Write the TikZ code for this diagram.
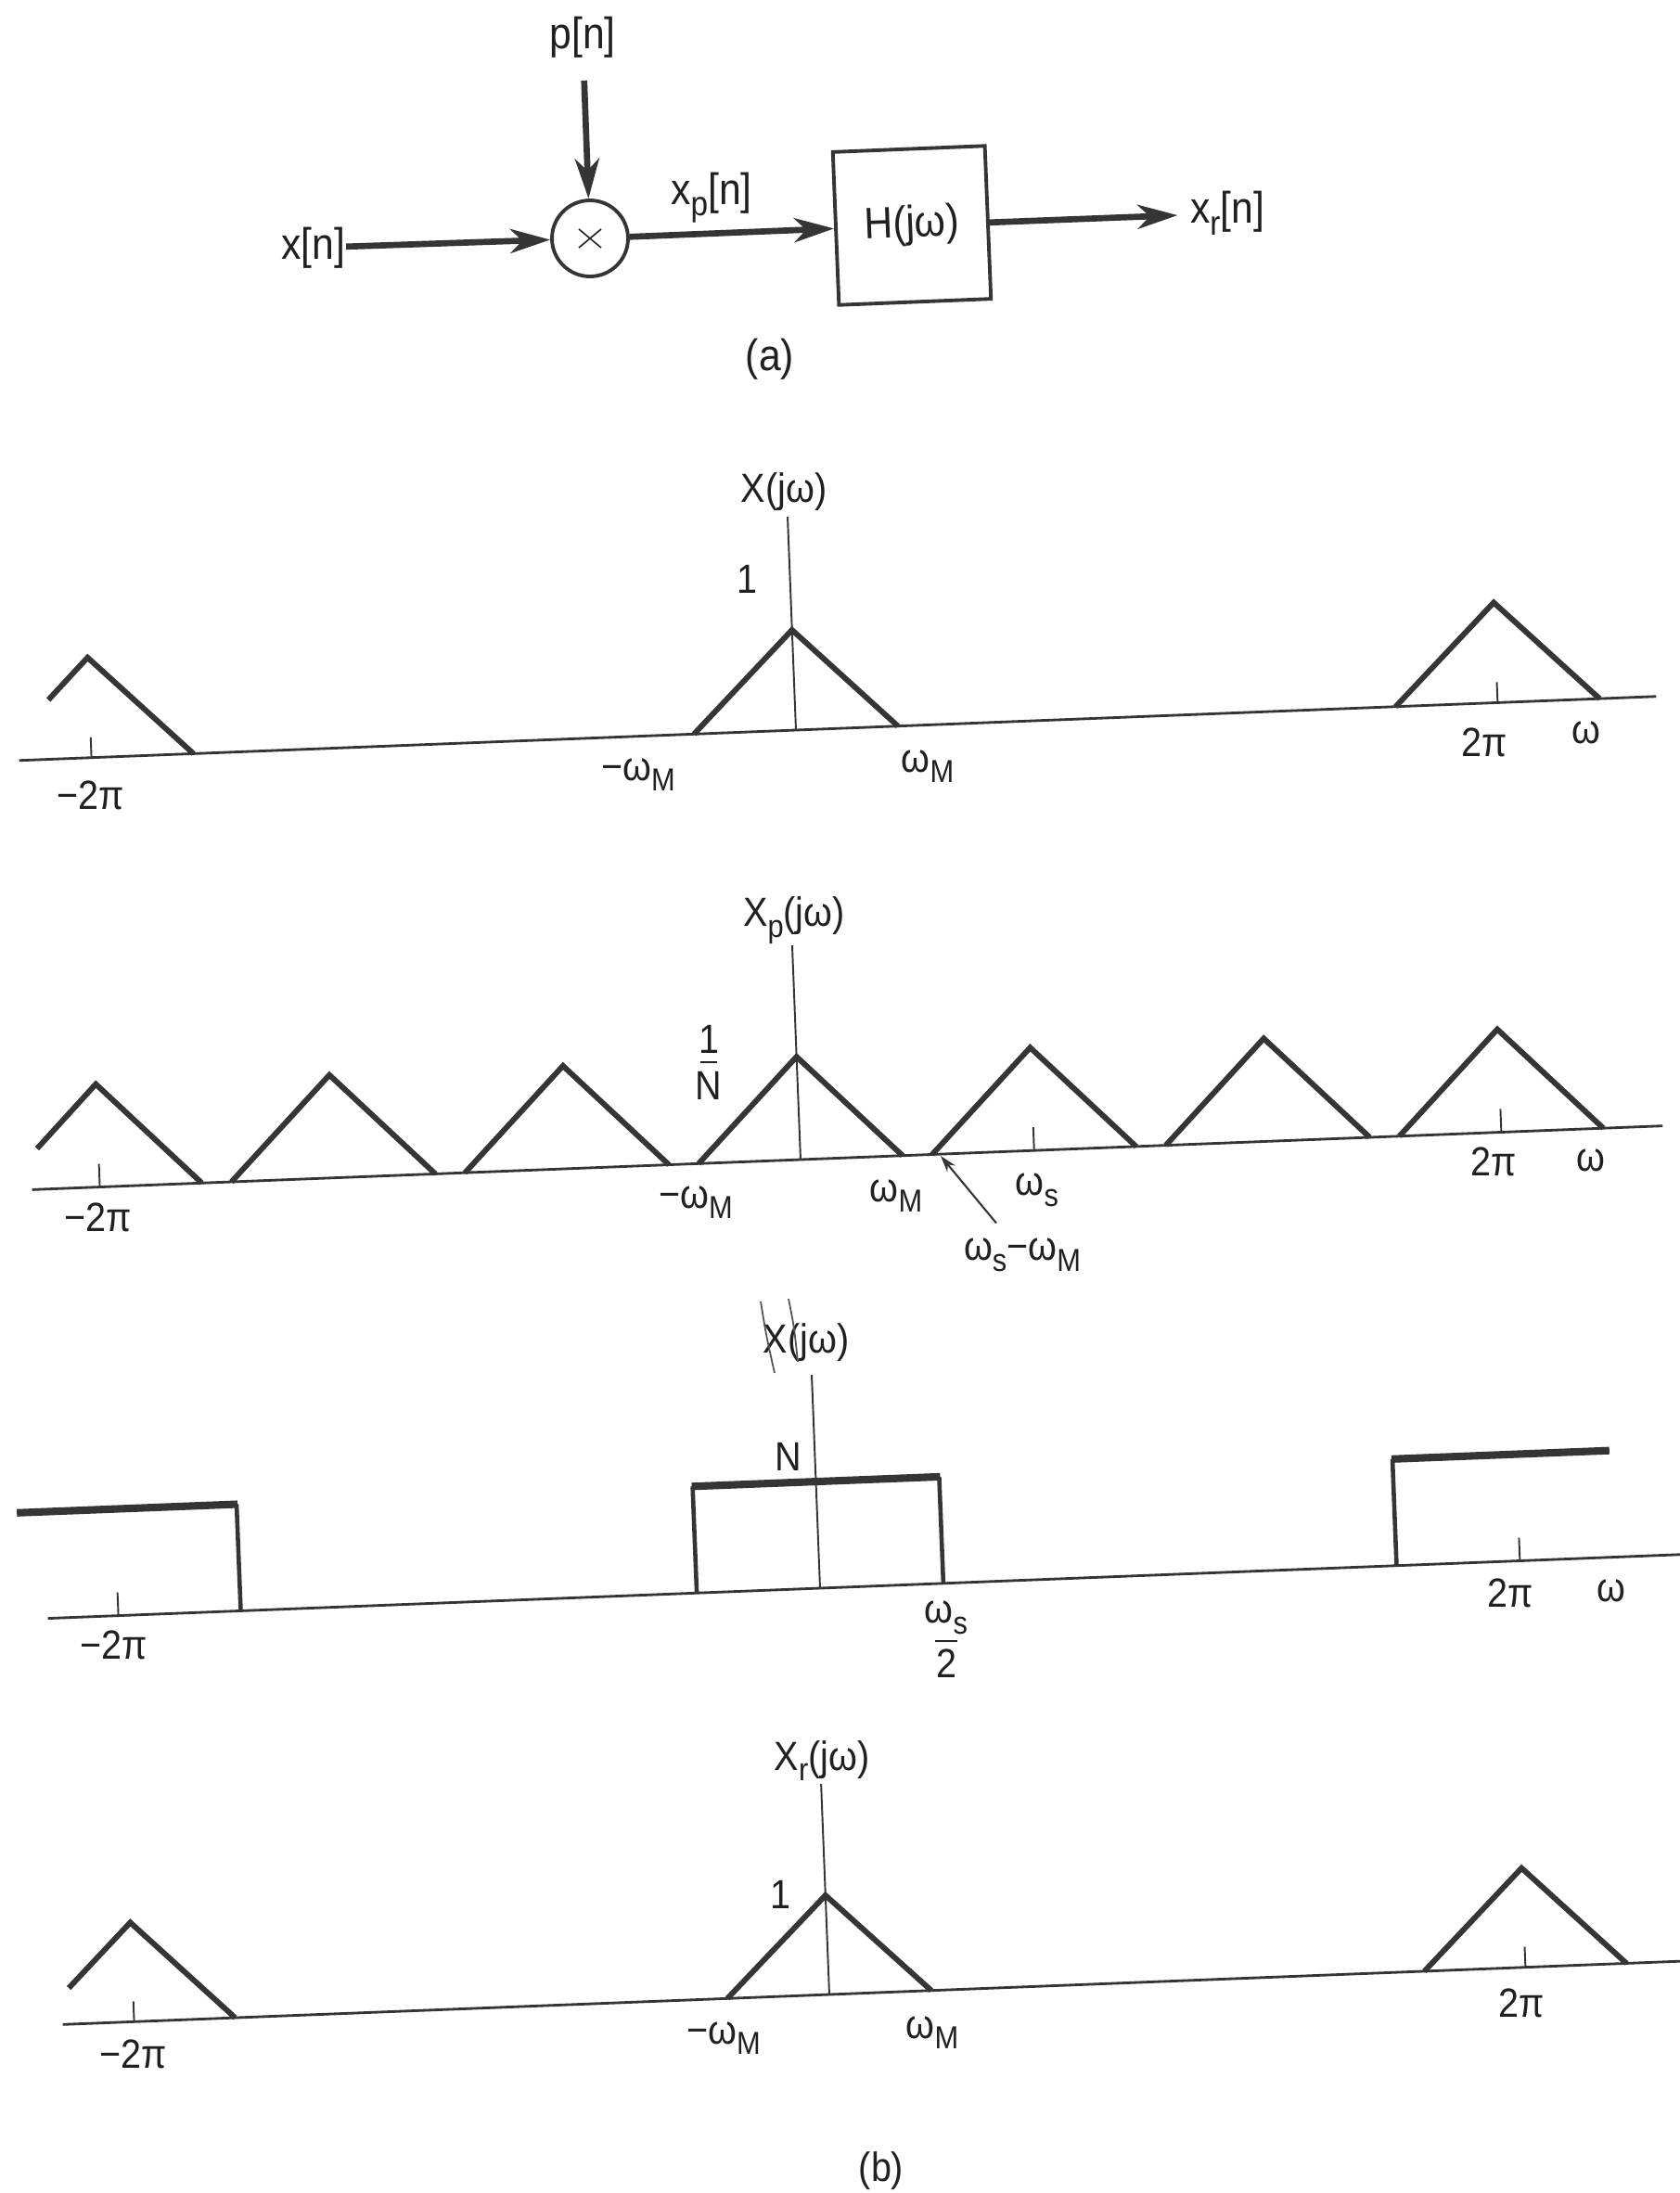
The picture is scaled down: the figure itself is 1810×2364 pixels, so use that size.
\documentclass[tikz,border=0pt]{standalone}
\usepackage{graphicx}
\usepackage{fontspec}
\setmainfont{Liberation Sans}[FakeStretch=0.9]
\usetikzlibrary{arrows.meta}
\definecolor{ink}{HTML}{353535}
\definecolor{txt}{HTML}{202020}
\newcommand{\lo}[1]{\raisebox{-0.5ex}{\scalebox{0.78}{#1}}}
\begin{document}
\begin{tikzpicture}[x=0.1mm, y=-0.1mm,
  lbl/.style={text=txt, inner sep=0pt, font=\fontsize{12.5}{14}\selectfont},
  blbl/.style={text=txt, inner sep=0pt, font=\fontsize{13.5}{16}\selectfont},
  sig/.style={draw=ink, line width=1.7pt, line join=miter},
  rtop/.style={draw=ink, line width=2.3pt},
  rside/.style={draw=ink, line width=1.3pt},
  axisline/.style={draw=ink, line width=0.8pt},
  vaxis/.style={draw=ink, line width=0.55pt},
  tickline/.style={draw=ink, line width=0.55pt},
  flow/.style={draw=ink, line width=1.9pt, -{Stealth[length=4.3mm, width=2.6mm, inset=1.3mm]}},
  ptr/.style={draw=ink, line width=0.6pt, -{Stealth[length=1.8mm, width=1.1mm]}},
  fracbar/.style={draw=txt, line width=0.6pt},
  pen/.style={draw=ink!85, line width=0.5pt},
  xmark/.style={draw=txt, line width=0.45pt},
  panel/.style={rotate=2.24}
]
\useasboundingbox[fill=white] (0,0) rectangle (1810,2364);

% ---------------- (a) block diagram ----------------
\node[blbl] (pn) at (628,40) {p[n]};
\node[circle, draw=ink, line width=1.1pt, minimum size=8.2mm, inner sep=0pt] (mul) at (636,257) {};
\draw[xmark] ([xshift=-1.2mm, yshift=1.0mm]mul.center) -- ([xshift=1.2mm, yshift=-1.0mm]mul.center);
\draw[xmark] ([xshift=-1.2mm, yshift=-1.0mm]mul.center) -- ([xshift=1.2mm, yshift=1.0mm]mul.center);
\node[blbl] (xn) at (338,267) {x[n]};
\node[blbl] (xp) at (767,213) {x\lo{p}[n]};
\node[draw=ink, line width=1.1pt, minimum width=16.4mm, minimum height=16.5mm,
      rotate=2.3, blbl] (H) at (983,243) {H(jω)};
\node[blbl] (xr) at (1323,230) {x\lo{r}[n]};
\node[blbl] (capa) at (830,387) {(a)};

\draw[flow, shorten <=2.4mm] (pn) -- (mul);
\draw[flow] (xn) -- (mul);
\draw[flow] (mul) -- (H);
\draw[flow, shorten >=1.3mm] (H) -- (xr);

% ---------------- X(jw) ----------------
\begin{scope}[shift={(858,787)}, panel]
  \draw[axisline] (-838,0) -- (928,0);
  \draw[vaxis] (0,0) -- (0,-230);
  \draw[tickline] (-760,0) -- (-760,-22);
  \draw[tickline] (757,0) -- (757,-22);
  \draw[sig] (-804,-64) -- (-760,-108) -- (-650,0);
  \draw[sig] (-110,0) -- (0,-108) -- (110,0);
  \draw[sig] (647,0) -- (757,-108) -- (867,0);
\end{scope}
\node[lbl] (l1a) at (845,530) {X(jω)};
\node[lbl] (l1b) at (805,624) {1};
\node[lbl] (l1c) at (98,857) {−2π};
\node[lbl] (l1d) at (688,835) {−ω\lo{M}};
\node[lbl] (l1e) at (1000,826) {ω\lo{M}};
\node[lbl] (l1f) at (1600,800) {2π};
\node[lbl] (l1g) at (1710,790) {ω};

% ---------------- Xp(jw) ----------------
\begin{scope}[shift={(863,1250)}, panel]
  \draw[axisline] (-829,0) -- (930,0);
  \draw[vaxis] (0,0) -- (0,-231);
  \draw[tickline] (-756,0) -- (-756,-25);
  \draw[tickline] (252,0) -- (252,-25);
  \draw[tickline] (756,0) -- (756,-25);
  \draw[sig] (-822,-44) -- (-756,-111) -- (-646,0);
  \foreach \c in {-504,-252,0,252,504,756}
    \draw[sig] (\c-110,0) -- (\c,-111) -- (\c+110,0);
\end{scope}
\node[lbl] (l2a) at (856,992) {X\lo{p}(jω)};
\node[lbl] (l2b) at (764,1120) {1};
\node[lbl] (l2c) at (764,1170) {N};
\draw[fracbar] (755,1145) -- (773,1145);
\node[lbl] (l2d) at (106,1312) {−2π};
\node[lbl] (l2e) at (750,1296) {−ω\lo{M}};
\node[lbl] (l2f) at (966,1289) {ω\lo{M}};
\node[lbl] (l2g) at (1118,1283) {ω\lo{s}};
\node[lbl] (l2h) at (1610,1252) {2π};
\node[lbl] (l2i) at (1715,1251) {ω};
\node[lbl] (wsm) at (1102,1353) {ω\lo{s}−ω\lo{M}};
\coordinate (wsmtip) at (1014,1246);
\draw[ptr] ([xshift=-2.8mm, yshift=1.6mm]wsm.north) -- (wsmtip);

% ---------------- H(jw) ----------------
\begin{scope}[shift={(884,1712)}, panel]
  \draw[axisline] (-833,0) -- (930,0);
  \draw[vaxis] (0,0) -- (0,-230);
  \draw[tickline] (-757,0) -- (-757,-25);
  \draw[tickline] (755,0) -- (755,-25);
  \draw[rside] (-133,0) -- (-133,-115);
  \draw[rside] (133,0) -- (133,-115);
  \draw[rtop] (-134,-115) -- (134,-115);
  \draw[rside] (-625,0) -- (-625,-115);
  \draw[rtop] (-862,-115) -- (-624,-115);
  \draw[rside] (622,0) -- (622,-115);
  \draw[rtop] (621,-115) -- (856,-115);
\end{scope}
\node[lbl] (l3a) at (869,1447) {X(jω)};
\draw[pen] (820,1403) .. controls (826,1440) .. (835,1480);
\draw[pen] (850,1400) .. controls (856,1430) .. (860,1468);
\node[lbl] (l3b) at (850,1570) {N};
\node[lbl] (l3c) at (123,1773) {−2π};
\node[lbl] (l3d) at (1020,1744) {ω\lo{s}};
\draw[fracbar] (1008,1769) -- (1032,1769);
\node[lbl] (l3e) at (1020,1793) {2};
\node[lbl] (l3f) at (1628,1717) {2π};
\node[lbl] (l3g) at (1737,1715) {ω};

% ---------------- Xr(jw) ----------------
\begin{scope}[shift={(894,2150)}, panel]
  \draw[axisline] (-827,0) -- (925,0);
  \draw[vaxis] (0,0) -- (0,-227);
  \draw[tickline] (-750,0) -- (-750,-22);
  \draw[tickline] (751,0) -- (751,-22);
  \draw[sig] (-819,-39) -- (-750,-107) -- (-641,0);
  \draw[sig] (-110,0) -- (0,-107) -- (110,0);
  \draw[sig] (642,0) -- (751,-107) -- (860,0);
\end{scope}
\node[lbl] (l4a) at (886,1898) {X\lo{r}(jω)};
\node[lbl] (l4b) at (841,2042) {1};
\node[lbl] (l4c) at (144,2214) {−2π};
\node[lbl] (l4d) at (780,2197) {−ω\lo{M}};
\node[lbl] (l4e) at (1005,2191) {ω\lo{M}};
\node[lbl] (l4f) at (1640,2159) {2π};
\node[lbl] (capb) at (950,2340) {(b)};
\end{tikzpicture}
\end{document}
